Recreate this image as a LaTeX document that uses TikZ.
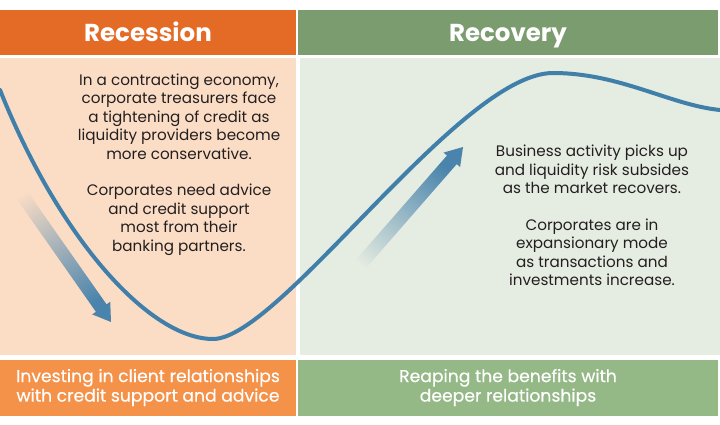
\documentclass[tikz,border=0pt]{standalone}
\usepackage{fontspec}
\setmainfont{Poppins}
\newfontfamily\footfont[FakeBold=0.4]{Poppins}
\usepackage{tikz}
\usetikzlibrary{calc,positioning}
\definecolor{headorange}{RGB}{227,107,38}
\definecolor{headgreen}{RGB}{123,156,111}
\definecolor{bodypeach}{RGB}{251,221,197}
\definecolor{bodygreen}{RGB}{229,236,225}
\definecolor{footorange}{RGB}{245,146,74}
\definecolor{footgreen}{RGB}{148,184,134}
\definecolor{curveblue}{RGB}{63,127,169}
\definecolor{arrowblue}{RGB}{74,132,172}
\definecolor{bodytext}{RGB}{35,31,32}

\begin{document}
\begin{tikzpicture}[
    x=1pt, y=-1pt,
    % Coloured bars and panels
    bar/.style={rectangle, inner sep=0pt, outer sep=0pt},
    head/.style={bar, minimum height=45pt, text height=18pt, text depth=0pt, text=white, font=\bfseries\fontsize{24.5}{27}\selectfont},
    panel/.style={bar, minimum height=297pt},
    foot/.style={bar, minimum height=56pt, text=white, align=center, font=\footfont\fontsize{17.2}{19.5}\selectfont},
    % Body text
    blurb/.style={align=center, text=bodytext, font=\fontsize{15.2}{18.4}\selectfont},
    % Business cycle line
    cycle/.style={draw=curveblue, line width=4pt, line cap=round}
]

    \useasboundingbox (0,0) rectangle (720,424);

    % --- RECESSION COLUMN (Left) ---
    \node[head, fill=headorange, minimum width=296pt] (rechead) at (148,32.5) {Recession};
    \node[panel, fill=bodypeach, minimum width=296pt] (recbody) at (148,206.5) {};
    \node[foot, fill=footorange, minimum width=296pt] (recfoot) at (148,387.5)
        {Investing in client relationships\\with credit support and advice};

    \node[blurb] (recnote) at (179,164.5) {In a contracting economy,\\corporate treasurers face\\a tightening of credit as\\liquidity providers become\\more conservative.\\[18.4pt]Corporates need advice\\and credit support\\most from their\\banking partners.};

    % --- RECOVERY COLUMN (Right) ---
    \node[head, fill=headgreen, minimum width=420pt] (covhead) at (508,32.5) {Recovery};
    \node[panel, fill=bodygreen, minimum width=420pt] (covbody) at (510,206.5) {};
    \node[foot, fill=footgreen, minimum width=420pt] (covfoot) at (508,387.5)
        {Reaping the benefits with\\deeper relationships};

    \node[blurb] (covnote) at (592,215.5) {Business activity picks up\\and liquidity risk subsides\\as the market recovers.\\[18.4pt]Corporates are in\\expansionary mode\\as transactions and\\investments increase.};

    % --- TREND ARROWS ---
    \coordinate (fallstart) at (10,178);
    \coordinate (fallend) at (111,322);
    \coordinate (risestart) at (347,280);
    \coordinate (riseend) at (463,147);

    \foreach \from/\to/\bg/\ang/\name in {fallstart/fallend/bodypeach/34/fall, risestart/riseend/bodygreen/140/rise} {
        \coordinate (\name base) at ($(\to)!17pt!(\from)$);
        \shade[top color=\bg, middle color=arrowblue!35!gray!40!\bg, bottom color=arrowblue, shading angle=\ang]
            ($(\from)!6.5pt!90:(\to)$) -- ($(\name base)!6.5pt!-90:(\from)$) -- ($(\name base)!11pt!-90:(\from)$)
            -- (\to) -- ($(\name base)!11pt!90:(\from)$) -- ($(\name base)!6.5pt!90:(\from)$)
            -- ($(\from)!6.5pt!-90:(\to)$) -- cycle;
    }

    % --- CYCLE CURVE ---
    \coordinate (cstart) at (0,90);
    \coordinate (trough) at (213,339);
    \coordinate (peak) at (553,73);
    \coordinate (cend) at (720,110);
    \draw[cycle] (cstart) .. controls (60,240) and (150,339) .. (trough)
        .. controls (280,339) and (460,73) .. (peak)
        .. controls (620,73) and (670,105) .. (cend);

\end{tikzpicture}
\end{document}
